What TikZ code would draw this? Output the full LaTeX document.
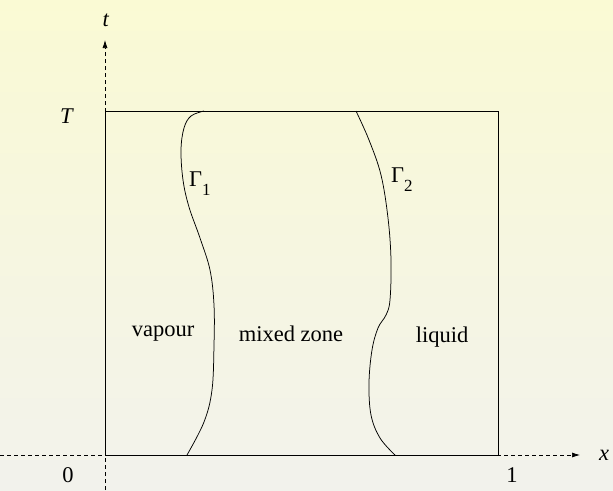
\documentclass[tikz,border=0pt]{standalone}
\usepackage{fontspec}
\setmainfont{Liberation Serif}
\usetikzlibrary{arrows.meta}
\begin{document}
\begin{tikzpicture}[x=1pt,y=-1pt,
  lbl/.style={font=\fontsize{22.5}{26}\selectfont, inner sep=0pt},
  axisline/.style={dashed, dash pattern=on 4pt off 3pt, line width=0.7pt, -{Latex[length=8pt,width=5pt]}},
  curve/.style={line width=0.75pt},
  boxline/.style={line width=0.9pt}]
\useasboundingbox (0,0) rectangle (613,490);
\shade[top color={rgb,255:red,250;green,250;blue,212}, bottom color={rgb,255:red,242;green,242;blue,236}] (0,0) rectangle (613,490);
% axes
\coordinate (tstart) at (105,490);
\coordinate (ttip) at (105,40);
\coordinate (xstart) at (0,455);
\coordinate (xtip) at (580,455);
\draw[axisline] (tstart) -- (ttip);
\draw[axisline] (xstart) -- (xtip);
% box
\draw[boxline] (105,111) rectangle (498,455);
% curves
\draw[curve] plot[smooth, tension=0.6] coordinates {(204,111) (191,116) (184,128) (181,150) (183,180) (189,207) (200,238) (210,270) (214,305) (214,345) (212,390) (204,422) (187,455)};
\draw[curve] plot[smooth, tension=0.6] coordinates {(356,111) (369,140) (381,175) (388,218) (391,260) (390,300) (386,315) (378,328) (372,350) (369,383) (371,415) (380,438) (395,455)};
% labels
\node[lbl] (t) at (106,20) {\textit{t}};
\node[lbl] (x) at (604,455) {\textit{x}};
\node[lbl] (T) at (67,116) {\textit{T}};
\node[lbl] (zero) at (68,475) {0};
\node[lbl] (one) at (512,475) {1};
\node[lbl, anchor=west] (g1) at (189,184) {Γ\raisebox{-0.4em}{\fontsize{17}{17}\selectfont 1}};
\node[lbl, anchor=west] (g2) at (391,180) {Γ\raisebox{-0.4em}{\fontsize{17}{17}\selectfont 2}};
\node[lbl] (vap) at (163,334) {vapour};
\node[lbl] (mix) at (291,334) {mixed zone};
\node[lbl] (liq) at (442,337) {liquid};
\end{tikzpicture}
\end{document}
